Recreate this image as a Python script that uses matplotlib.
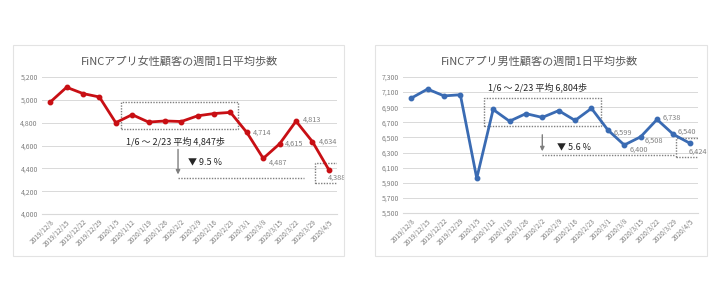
import matplotlib.pyplot as plt
from matplotlib.patches import Rectangle

plt.rcParams['font.family'] = ['Noto Sans CJK JP', 'DejaVu Sans']

dates = ['2019/12/8', '2019/12/15', '2019/12/22', '2019/12/29', '2020/1/5',
         '2020/1/12', '2020/1/19', '2020/1/26', '2020/2/2', '2020/2/9',
         '2020/2/16', '2020/2/23', '2020/3/1', '2020/3/8', '2020/3/15',
         '2020/3/22', '2020/3/29', '2020/4/5']

female = [4980, 5110, 5055, 5025, 4800, 4870, 4805, 4815, 4810, 4860,
          4880, 4890, 4714, 4487, 4615, 4813, 4634, 4388]
male = [7020, 7140, 7050, 7065, 5960, 6870, 6715, 6815, 6765, 6855,
        6725, 6885, 6599, 6400, 6508, 6738, 6540, 6424]

female_title = 'FiNCアプリ女性顧客の週間1日平均歩数'
male_title = 'FiNCアプリ男性顧客の週間1日平均歩数'
female_avg_text = '1/6 ～ 2/23 平均 4,847歩'
male_avg_text = '1/6 ～ 2/23 平均 6,804歩'
female_drop = '▼ 9.5 %'
male_drop = '▼ 5.6 %'

W, H = 720, 300
fig = plt.figure(figsize=(7.2, 3.0), dpi=100)
fig.patch.set_facecolor('white')

GRAY = '#808080'
GRID = '#D9D9D9'


def px_axes(x0, x1, ytop, ybot):
    return fig.add_axes([x0 / W, 1 - ybot / H, (x1 - x0) / W, (ybot - ytop) / H])


def panel(x0, x1, y0, y1):
    fig.patches.append(Rectangle((x0 / W, 1 - y1 / H), (x1 - x0) / W, (y1 - y0) / H,
                                 transform=fig.transFigure, fill=False,
                                 edgecolor='#E3E3E3', linewidth=0.8))


def draw(ax, values, color, ylim, step, title, title_x):
    x = list(range(len(values)))
    ax.plot(x, values, color=color, linewidth=2.0, marker='o', markersize=3.2, zorder=3)
    ax.set_xlim(-0.5, len(values) - 0.5)
    ax.set_ylim(*ylim)
    ticks = list(range(ylim[0], ylim[1] + 1, step))
    ax.set_yticks(ticks)
    ax.set_yticklabels([f'{t:,}' for t in ticks], fontsize=5, color=GRAY)
    ax.set_xticks(x)
    ax.set_xticklabels(dates, rotation=45, ha='right', rotation_mode='anchor',
                       fontsize=4.8, color=GRAY)
    ax.tick_params(length=0, pad=3)
    ax.grid(axis='y', color=GRID, linewidth=0.7)
    ax.set_axisbelow(True)
    for s in ['top', 'right', 'left']:
        ax.spines[s].set_visible(False)
    ax.spines['bottom'].set_color(GRID)
    fig.text(title_x / W, 1 - 61 / H, title, ha='center', va='center',
             fontsize=8, color='#595959')


def dotted_box(ax, x0, x1, y0, y1):
    ax.add_patch(Rectangle((x0, y0), x1 - x0, y1 - y0, fill=False,
                           edgecolor='#7F7F7F', linestyle=(0, (1, 1)), linewidth=1.0,
                           zorder=2))


def labels(ax, values, offsets):
    for i, (dx, dy) in offsets.items():
        ax.annotate(f'{values[i]:,}', (i, values[i]), xytext=(dx, dy),
                    textcoords='offset points', fontsize=5.3, color=GRAY,
                    ha='left', va='center')


# female chart
panel(13, 344, 45, 256)
ax1 = px_axes(42, 337, 77, 214)
draw(ax1, female, '#C80F14', (4000, 5200), 200, female_title, 179)
dotted_box(ax1, 4.35, 11.45, 4745, 4980)
dotted_box(ax1, 16.15, 17.9, 4272, 4447)
ax1.text(7.65, 4639, female_avg_text, ha='center', va='center', fontsize=6.5, color='#262626')
ax1.annotate('', xy=(7.8, 4322), xytext=(7.8, 4590),
             arrowprops=dict(arrowstyle='-|>', color='#7F7F7F', lw=1.0, mutation_scale=6))
ax1.plot([7.8, 15.5], [4315, 4315], color='#7F7F7F', linestyle=(0, (1, 1)), linewidth=1.0)
ax1.text(8.4, 4455, female_drop, ha='left', va='center', fontsize=6.5, color='#262626')
labels(ax1, female, {12: (4, 0), 13: (4, -3), 14: (4, 0), 15: (5, 1),
                     16: (5, 0), 17: (-1, -6)})

# male chart
panel(375, 707, 45, 256)
ax2 = px_axes(403, 698, 77, 213)
draw(ax2, male, '#3A6BB3', (5500, 7300), 200, male_title, 540)
dotted_box(ax2, 4.47, 11.56, 6651, 7022)
dotted_box(ax2, 16.15, 17.9, 6241, 6493)
ax2.text(7.7, 7168, male_avg_text, ha='center', va='center', fontsize=6.5, color='#262626')
ax2.annotate('', xy=(8.0, 6280), xytext=(8.0, 6572),
             arrowprops=dict(arrowstyle='-|>', color='#7F7F7F', lw=1.0, mutation_scale=6))
ax2.plot([8.0, 16.1], [6268, 6268], color='#7F7F7F', linestyle=(0, (1, 1)), linewidth=1.0)
ax2.text(8.9, 6373, male_drop, ha='left', va='center', fontsize=6.5, color='#262626')
labels(ax2, male, {12: (4, -2), 13: (4, -3), 14: (3, -3), 15: (4, 1),
                   16: (3, 2), 17: (-1, -6)})

fig.savefig('out.png', dpi=100, facecolor='white')
